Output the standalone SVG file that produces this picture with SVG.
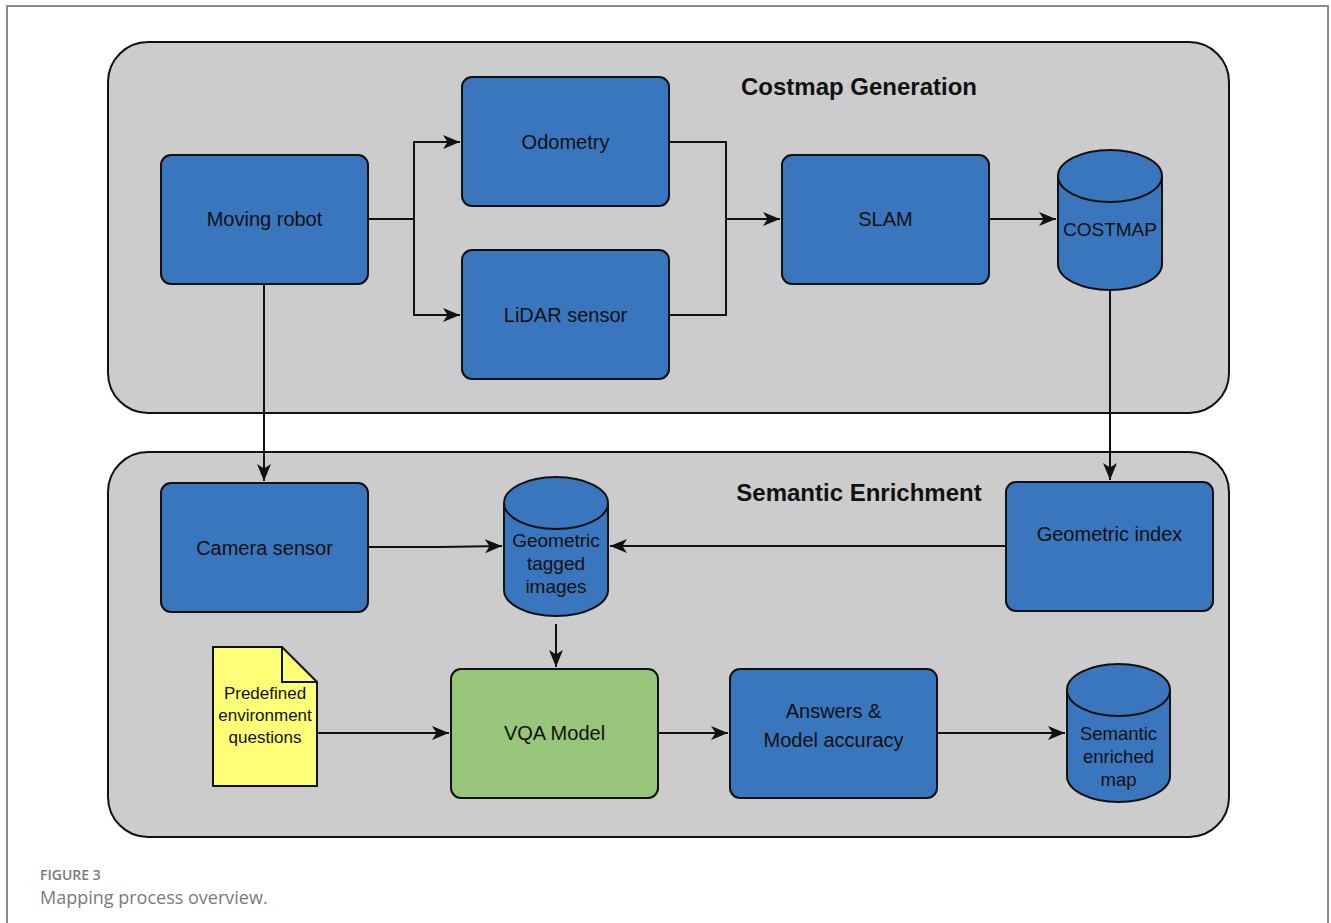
<svg xmlns="http://www.w3.org/2000/svg" width="1331" height="923" viewBox="0 0 1331 923">
<style>
.frame{fill:none;stroke:#8a8a8a;stroke-width:2}
.group{fill:#cccccc;stroke:#111;stroke-width:2}
.box{fill:#3a76bd;stroke:#111;stroke-width:2}
.green{fill:#97c67a;stroke:#111;stroke-width:2}
.doc{fill:#ffff77;stroke:#111;stroke-width:2}
.lbl{font-family:"Liberation Sans",Arial,sans-serif;font-size:20px;fill:#111;text-anchor:middle}
.title{font-family:"Liberation Sans",Arial,sans-serif;font-size:24px;font-weight:bold;fill:#111;text-anchor:middle}
.conn{fill:none;stroke:#111;stroke-width:2}
.cap1{font-family:"Open Sans","Noto Sans",sans-serif;font-size:14px;font-weight:600;fill:#7a7a7a}
.cap2{font-family:"Open Sans","Noto Sans",sans-serif;font-size:18px;fill:#7a7a7a}
</style>
<defs>
<marker id="arr" markerWidth="18" markerHeight="14" refX="17" refY="7" orient="auto" markerUnits="userSpaceOnUse">
<path d="M0,0 L17,7 L0,14 L4.5,7 Z" fill="#111"/>
</marker>
</defs>
<rect width="1331" height="923" fill="#fff"/>
<path class="frame" d="M7,923 L7,6 L1328,6 L1328,923"/>

<g id="costmap-generation">
<rect class="group" x="108" y="42" width="1121" height="371" rx="40"/>
<text class="title" x="859" y="95">Costmap Generation</text>
</g>
<g id="semantic-enrichment">
<rect class="group" x="108" y="452" width="1121" height="385" rx="40"/>
<text class="title" x="859" y="501">Semantic Enrichment</text>
</g>

<g id="connectors">
<path class="conn" d="M368,219 H414 V142 H460" marker-end="url(#arr)"/>
<path class="conn" d="M414,219 V315 H460" marker-end="url(#arr)"/>
<path class="conn" d="M669,142 H726 V315 H669"/>
<path class="conn" d="M726,219 H780" marker-end="url(#arr)"/>
<path class="conn" d="M989,219 H1056" marker-end="url(#arr)"/>
<path class="conn" d="M1110,290 V480" marker-end="url(#arr)"/>
<path class="conn" d="M264,284 V481" marker-end="url(#arr)"/>
<path class="conn" d="M368,547 H440 L502,546" marker-end="url(#arr)"/>
<path class="conn" d="M1006,546 H610" marker-end="url(#arr)"/>
<path class="conn" d="M556,624 V667" marker-end="url(#arr)"/>
<path class="conn" d="M317,733 H449" marker-end="url(#arr)"/>
<path class="conn" d="M658,733 H728" marker-end="url(#arr)"/>
<path class="conn" d="M937,733 H1065" marker-end="url(#arr)"/>
</g>

<g id="moving-robot">
<rect class="box" x="161" y="155" width="207" height="129" rx="10"/>
<text class="lbl" x="264.5" y="226">Moving robot</text>
</g>
<g id="odometry">
<rect class="box" x="462" y="77" width="207" height="129" rx="10"/>
<text class="lbl" x="565.5" y="149">Odometry</text>
</g>
<g id="lidar-sensor">
<rect class="box" x="462" y="250" width="207" height="129" rx="10"/>
<text class="lbl" x="565.5" y="322">LiDAR sensor</text>
</g>
<g id="slam">
<rect class="box" x="782" y="155" width="207" height="129" rx="10"/>
<text class="lbl" x="885.5" y="226">SLAM</text>
</g>
<g id="costmap">
<path class="box" d="M1058,176 A52,26 0 0 1 1162,176 V264 A52,26 0 0 1 1058,264 Z"/>
<path class="conn" d="M1058,176 A52,26 0 0 0 1162,176"/>
<text class="lbl" x="1110" y="236" style="font-size:19px">COSTMAP</text>
</g>
<g id="camera-sensor">
<rect class="box" x="161" y="483" width="207" height="129" rx="10"/>
<text class="lbl" x="264.5" y="555">Camera sensor</text>
</g>
<g id="geometric-tagged-images">
<path class="box" d="M504,503 A52,26 0 0 1 608,503 V590 A52,26 0 0 1 504,590 Z"/>
<path class="conn" d="M504,503 A52,26 0 0 0 608,503"/>
<text class="lbl" x="556" y="547" style="font-size:19px">Geometric</text>
<text class="lbl" x="556" y="570" style="font-size:19px">tagged</text>
<text class="lbl" x="556" y="593" style="font-size:19px">images</text>
</g>
<g id="geometric-index">
<rect class="box" x="1006" y="482" width="207" height="129" rx="10"/>
<text class="lbl" x="1109.5" y="541">Geometric index</text>
</g>
<g id="predefined-questions">
<path class="doc" d="M213,647 H282 L317,682 V786 H213 Z"/>
<path class="conn" d="M282,647 V682 H317"/>
<text class="lbl" x="265" y="699" style="font-size:17px">Predefined</text>
<text class="lbl" x="265" y="721" style="font-size:17px">environment</text>
<text class="lbl" x="265" y="743" style="font-size:17px">questions</text>
</g>
<g id="vqa-model">
<rect class="green" x="451" y="669" width="207" height="129" rx="10"/>
<text class="lbl" x="554.5" y="740">VQA Model</text>
</g>
<g id="answers">
<rect class="box" x="730" y="669" width="207" height="129" rx="10"/>
<text class="lbl" x="833.5" y="718">Answers &amp;</text>
<text class="lbl" x="833.5" y="747">Model accuracy</text>
</g>
<g id="semantic-enriched-map">
<path class="box" d="M1067,690 A51.5,26 0 0 1 1170,690 V776 A51.5,26 0 0 1 1067,776 Z"/>
<path class="conn" d="M1067,690 A51.5,26 0 0 0 1170,690"/>
<text class="lbl" x="1118.5" y="740" style="font-size:18.5px">Semantic</text>
<text class="lbl" x="1118.5" y="763" style="font-size:18.5px">enriched</text>
<text class="lbl" x="1118.5" y="786" style="font-size:18.5px">map</text>
</g>

<text class="cap1" x="40" y="880">FIGURE 3</text>
<text class="cap2" x="40" y="904">Mapping process overview.</text>
</svg>
